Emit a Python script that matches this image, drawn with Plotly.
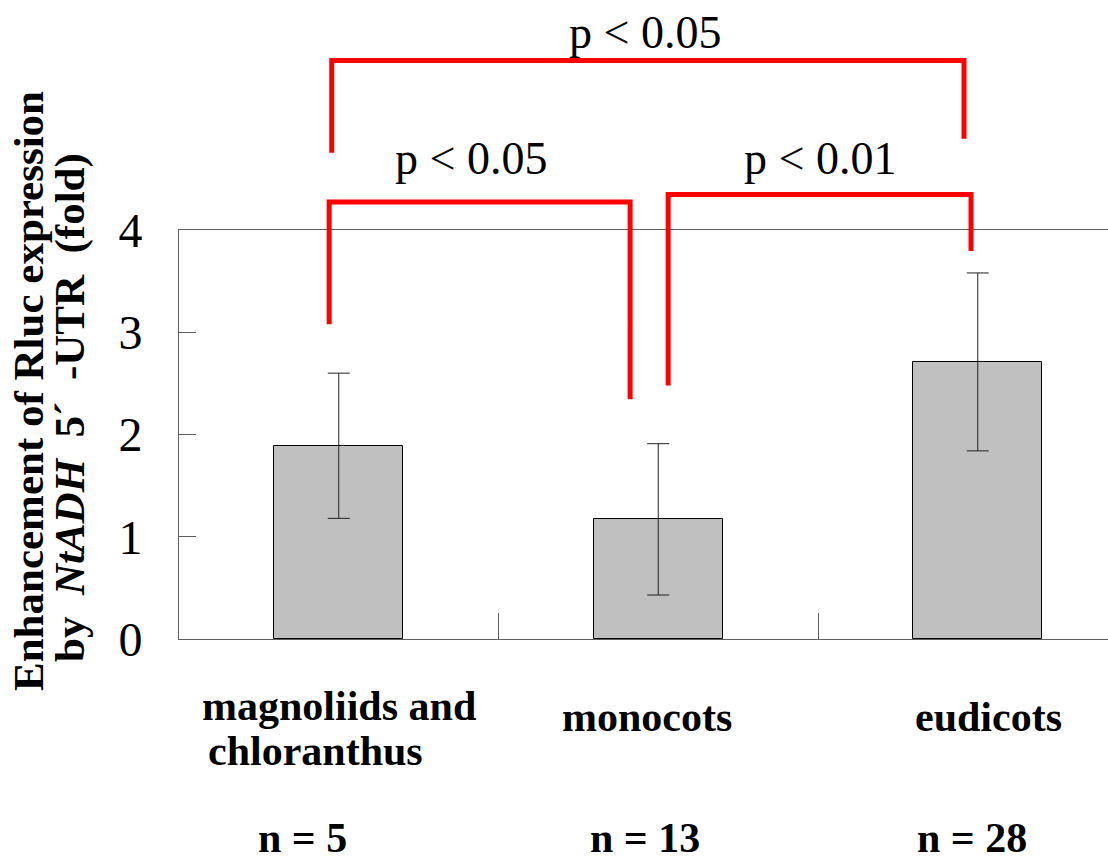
import plotly.graph_objects as go

# ---- data ----
categories = ["magnoliids and\nchloranthus", "monocots", "eudicots"]
sample_sizes = ["n = 5", "n = 13", "n = 28"]
means = [1.89, 1.17, 2.71]
errors = [0.71, 0.74, 0.87]
y_ticks = [0, 1, 2, 3, 4]
y_title_lines = ["Enhancement of Rluc expression",
                 "by\u00a0 <i>NtADH</i>\u00a0 5\u00b4\u00a0 -UTR\u00a0 (fold)"]

# significance brackets: (left leg x, right leg x, left leg bottom, right leg bottom, top) in data units
bracket_labels = ["p < 0.05", "p < 0.01", "p < 0.05"]
bracket_left_x = [-0.03, 1.031, -0.022]
bracket_right_x = [0.912, 1.979, 1.957]
bracket_left_bottom = [3.079, 2.480, 4.756]
bracket_right_bottom = [2.344, 3.795, 4.893]
bracket_top = [4.273, 4.346, 5.657]

# ---- geometry ----
W, H = 1108, 862
L, R, T, B = 179, 0, 230, 223
plot_w = W - L - R
plot_h = H - T - B
cat_px = 319.5
x_range = [-0.5, -0.5 + plot_w / cat_px]
y_max = 4.0

def px_x(px):
    return (px - L) / plot_w

def px_y(py):
    return (H - B - py) / plot_h

FONT = "Liberation Serif"

fig = go.Figure()
fig.add_trace(go.Bar(
    x=list(range(len(means))), y=means, width=0.404,
    marker=dict(color="#c0c0c0", line=dict(color="#000000", width=1)),
    error_y=dict(type="data", array=errors, visible=True, color="#222222", thickness=1, width=11),
    showlegend=False, hoverinfo="skip",
))

shapes = []
annotations = []
for i in range(len(bracket_labels)):
    xl, xr = bracket_left_x[i], bracket_right_x[i]
    yl, yr, yt = bracket_left_bottom[i] / y_max, bracket_right_bottom[i] / y_max, bracket_top[i] / y_max
    shapes.append(dict(
        type="path", xref="x", yref="paper",
        path=f"M {xl},{yl} L {xl},{yt} L {xr},{yt} L {xr},{yr}",
        line=dict(color="#ff0000", width=5),
    ))

label_x_px = [471, 820, 645]
label_base_px = [173, 173, 47]
for i, txt in enumerate(bracket_labels):
    annotations.append(dict(
        text=txt, xref="paper", yref="paper", x=px_x(label_x_px[i]), y=px_y(label_base_px[i] - 42),
        xanchor="center", yanchor="top", showarrow=False,
        font=dict(family=FONT, size=46, color="#000000"),
    ))

# category labels (bold)
cat_font = dict(family=FONT, size=42, color="#000000", weight="bold")
line1_px = [338.5, 646.5, 988.5]
line1_base = [719, 730, 730]
for i, c in enumerate(categories):
    lines = c.split("\n")
    annotations.append(dict(
        text=lines[0], xref="paper", yref="paper", x=px_x(line1_px[i]), y=px_y(line1_base[i] - 38),
        xanchor="center", yanchor="top", showarrow=False, font=cat_font,
    ))
    if len(lines) > 1:
        annotations.append(dict(
            text=lines[1], xref="paper", yref="paper", x=px_x(206), y=px_y(764 - 38),
            xanchor="left", yanchor="top", showarrow=False, font=cat_font,
        ))

n_px = [302, 645, 972]
for i, n in enumerate(sample_sizes):
    annotations.append(dict(
        text=n, xref="paper", yref="paper", x=px_x(n_px[i]), y=px_y(851 - 38),
        xanchor="center", yanchor="top", showarrow=False, font=cat_font,
    ))

# y axis title (two rotated lines)
title_x_px = [28, 70]
title_y_px = [391, 408]
for i, t in enumerate(y_title_lines):
    annotations.append(dict(
        text=t, xref="paper", yref="paper", x=px_x(title_x_px[i]), y=px_y(title_y_px[i]),
        xanchor="center", yanchor="middle", textangle=-90, showarrow=False,
        font=dict(family=FONT, size=43, color="#000000", weight="bold"),
    ))

fig.update_layout(
    width=W, height=H,
    margin=dict(l=L, r=R, t=T, b=B, pad=0),
    paper_bgcolor="white", plot_bgcolor="white",
    shapes=shapes, annotations=annotations,
    bargap=0,
    xaxis=dict(
        range=x_range, showgrid=False, zeroline=False,
        showline=True, linecolor="#606060", linewidth=1, mirror=True,
        tickmode="array", tickvals=[-0.5, 0.5, 1.5], ticks="inside", ticklen=26,
        tickcolor="#606060", tickwidth=1, showticklabels=False,
    ),
    yaxis=dict(
        range=[0, y_max], showgrid=False, zeroline=False,
        showline=True, linecolor="#606060", linewidth=1,
        tickmode="array", tickvals=y_ticks, ticktext=[str(v) for v in y_ticks],
        ticks="inside", ticklen=17, tickcolor="#606060", tickwidth=1,
        tickfont=dict(family=FONT, size=48, color="#000000"),
        ticklabelstandoff=26,
    ),
)

fig.write_html("out.html")
